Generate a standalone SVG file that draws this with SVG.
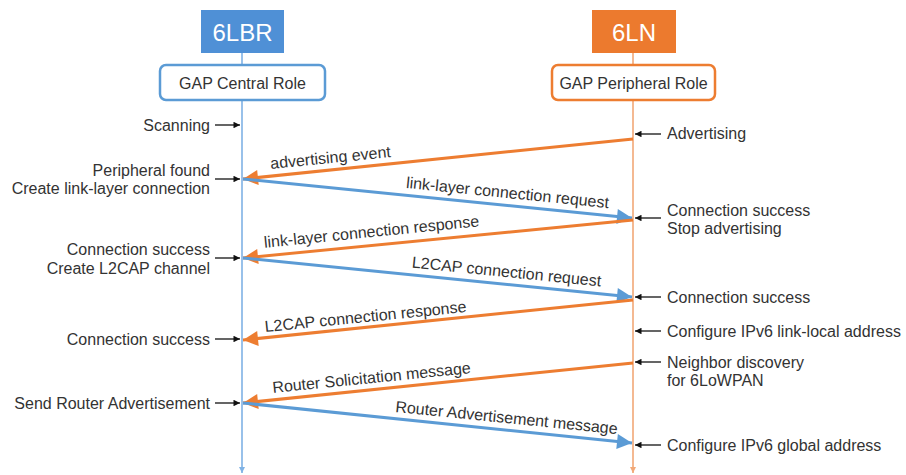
<svg xmlns="http://www.w3.org/2000/svg" width="906" height="475" viewBox="0 0 906 475">
  <style>
    text { font-family: "Liberation Sans", Arial, sans-serif; font-size: 16px; fill: #333; }
    .title { font-size: 24px; fill: #fff; text-anchor: middle; }
    .role { text-anchor: middle; }
    .lbl { text-anchor: middle; }
    .end { text-anchor: end; }
    .msg-o { stroke: #ed7d31; stroke-width: 3; fill: none; }
    .msg-b { stroke: #5b9bd5; stroke-width: 3; fill: none; }
    .tick { stroke: #111; stroke-width: 1.3; fill: none; }
  </style>
  <defs>
    <marker id="headO" viewBox="0 0 10 10" refX="10" refY="5" markerWidth="6.5" markerHeight="5" markerUnits="strokeWidth" orient="auto">
      <path d="M0,0 L10,5 L0,10 z" fill="#ed7d31"/>
    </marker>
    <marker id="headB" viewBox="0 0 10 10" refX="10" refY="5" markerWidth="6.5" markerHeight="5" markerUnits="strokeWidth" orient="auto">
      <path d="M0,0 L10,5 L0,10 z" fill="#5b9bd5"/>
    </marker>
    <marker id="headK" viewBox="0 0 10 10" refX="10" refY="5" markerWidth="6" markerHeight="5" markerUnits="strokeWidth" orient="auto">
      <path d="M0,0 L10,5 L0,10 z" fill="#111"/>
    </marker>
    <marker id="endB" viewBox="0 0 10 10" refX="10" refY="5" markerWidth="4" markerHeight="4" markerUnits="strokeWidth" orient="auto">
      <path d="M0,0 L10,5 L0,10 z" fill="#7fb2e5"/>
    </marker>
    <marker id="endO" viewBox="0 0 10 10" refX="10" refY="5" markerWidth="4" markerHeight="4" markerUnits="strokeWidth" orient="auto">
      <path d="M0,0 L10,5 L0,10 z" fill="#f2a877"/>
    </marker>
  </defs>

  <rect width="906" height="475" fill="#fff"/>

  <!-- lifelines -->
  <g id="lifelines">
    <line x1="242" y1="53" x2="242" y2="473" stroke="#7fb2e5" stroke-width="1.6" marker-end="url(#endB)"/>
    <line x1="633" y1="53" x2="633" y2="473" stroke="#f2a877" stroke-width="1.6" marker-end="url(#endO)"/>
  </g>

  <g id="node-6lbr">
    <rect x="201" y="10" width="83" height="43" fill="#4f90d6"/>
    <text class="title" x="242.5" y="41">6LBR</text>
  </g>
  <g id="node-central">
    <rect x="160" y="65" width="165" height="35" rx="6" fill="#fff" stroke="#5b9bd5" stroke-width="2.5"/>
    <text class="role" x="242.5" y="89">GAP Central Role</text>
  </g>
  <g id="node-6ln">
    <rect x="592" y="10" width="84" height="43" fill="#ec7a2e"/>
    <text class="title" x="634" y="41">6LN</text>
  </g>
  <g id="node-peripheral">
    <rect x="552" y="65" width="163" height="35" rx="6" fill="#fff" stroke="#ed7d31" stroke-width="2.5"/>
    <text class="role" x="633.5" y="89">GAP Peripheral Role</text>
  </g>

  <!-- messages between the two roles -->
  <g id="connectors">
    <line class="msg-o" x1="633" y1="139" x2="243" y2="179" marker-end="url(#headO)"/>
    <line class="msg-b" x1="243" y1="179" x2="632" y2="218" marker-end="url(#headB)"/>
    <line class="msg-o" x1="633" y1="220" x2="243" y2="258" marker-end="url(#headO)"/>
    <line class="msg-b" x1="243" y1="258" x2="632" y2="297" marker-end="url(#headB)"/>
    <line class="msg-o" x1="633" y1="300" x2="243" y2="340" marker-end="url(#headO)"/>
    <line class="msg-o" x1="633" y1="363" x2="243" y2="403" marker-end="url(#headO)"/>
    <line class="msg-b" x1="243" y1="403" x2="632" y2="443" marker-end="url(#headB)"/>

    <!-- local event ticks, 6LBR side -->
    <line class="tick" x1="215" y1="125" x2="240" y2="125" marker-end="url(#headK)"/>
    <line class="tick" x1="215" y1="179" x2="240" y2="179" marker-end="url(#headK)"/>
    <line class="tick" x1="215" y1="258" x2="240" y2="258" marker-end="url(#headK)"/>
    <line class="tick" x1="215" y1="339" x2="240" y2="339" marker-end="url(#headK)"/>
    <line class="tick" x1="215" y1="403" x2="240" y2="403" marker-end="url(#headK)"/>

    <!-- local event ticks, 6LN side -->
    <line class="tick" x1="661" y1="134" x2="635" y2="134" marker-end="url(#headK)"/>
    <line class="tick" x1="661" y1="218" x2="635" y2="218" marker-end="url(#headK)"/>
    <line class="tick" x1="661" y1="297" x2="635" y2="297" marker-end="url(#headK)"/>
    <line class="tick" x1="661" y1="331" x2="635" y2="331" marker-end="url(#headK)"/>
    <line class="tick" x1="661" y1="362" x2="635" y2="362" marker-end="url(#headK)"/>
    <line class="tick" x1="661" y1="445" x2="635" y2="445" marker-end="url(#headK)"/>
  </g>

  <!-- message labels -->
  <g id="message-labels">
    <text class="lbl" transform="translate(331,163) rotate(-5.7)">advertising event</text>
    <text class="lbl" transform="translate(507,198) rotate(5.7)">link-layer connection request</text>
    <text class="lbl" transform="translate(372,237) rotate(-5.7)">link-layer connection response</text>
    <text class="lbl" transform="translate(506,277) rotate(5.7)">L2CAP connection request</text>
    <text class="lbl" transform="translate(366,322) rotate(-5.7)">L2CAP connection response</text>
    <text class="lbl" transform="translate(372,383) rotate(-5.7)">Router Solicitation message</text>
    <text class="lbl" transform="translate(506,423) rotate(5.7)">Router Advertisement message</text>
  </g>

  <!-- 6LBR side events -->
  <g id="events-6lbr">
    <text class="end" x="210" y="131">Scanning</text>
    <text class="end" x="210" y="176">Peripheral found</text>
    <text class="end" x="210" y="194">Create link-layer connection</text>
    <text class="end" x="210" y="255">Connection success</text>
    <text class="end" x="210" y="274">Create L2CAP channel</text>
    <text class="end" x="210" y="345">Connection success</text>
    <text class="end" x="210" y="409">Send Router Advertisement</text>
  </g>

  <!-- 6LN side events -->
  <g id="events-6ln">
    <text x="667" y="139">Advertising</text>
    <text x="667" y="216">Connection success</text>
    <text x="667" y="234">Stop advertising</text>
    <text x="667" y="303">Connection success</text>
    <text x="667" y="337">Configure IPv6 link-local address</text>
    <text x="667" y="368">Neighbor discovery</text>
    <text x="667" y="386">for 6LoWPAN</text>
    <text x="667" y="451">Configure IPv6 global address</text>
  </g>
</svg>
